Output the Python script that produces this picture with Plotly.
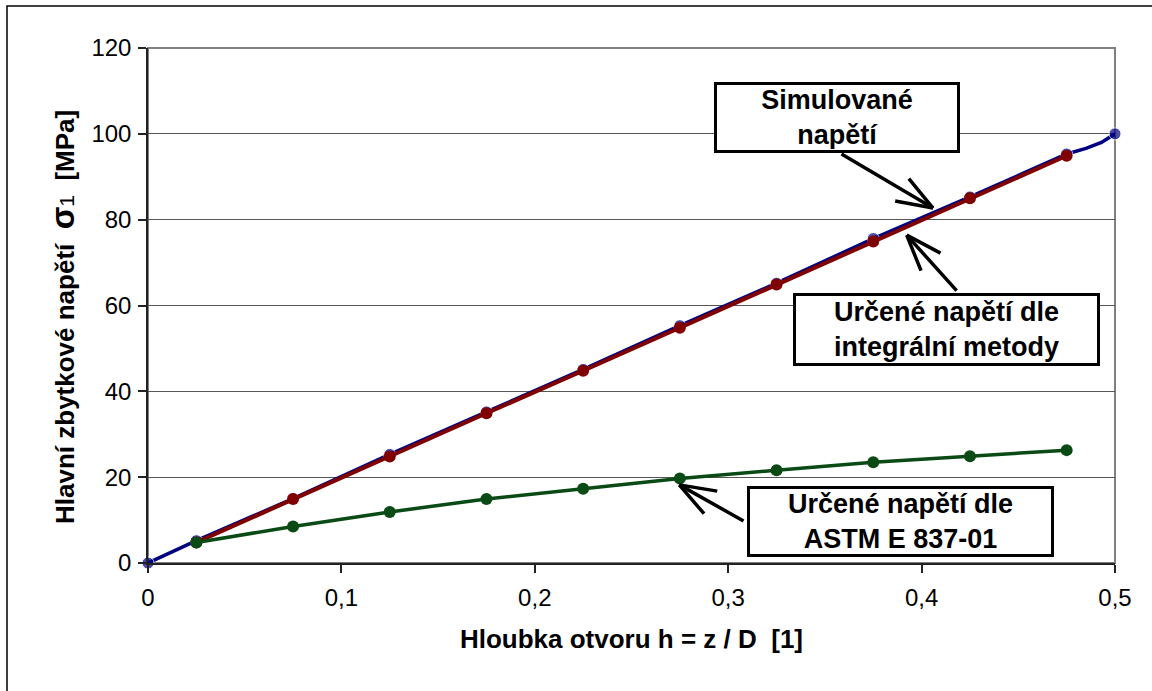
import math
import plotly.graph_objects as go

# ---- data ----
x_sim = [0, 0.025, 0.075, 0.125, 0.175, 0.225, 0.275, 0.325, 0.375, 0.425, 0.475, 0.485, 0.493, 0.5]
sim_stress = [0, 5.2, 15.0, 25.3, 35.2, 45.1, 55.3, 65.2, 75.6, 85.3, 95.3, 96.6, 98.0, 100]
sim_marker = [1, 1, 1, 1, 1, 1, 1, 1, 1, 1, 1, 0, 0, 1]

x_meas = [0.025, 0.075, 0.125, 0.175, 0.225, 0.275, 0.325, 0.375, 0.425, 0.475]
integral_stress = [4.8, 14.9, 24.8, 34.9, 44.8, 54.8, 64.9, 74.9, 85.0, 94.9]
astm_stress = [4.8, 8.5, 11.9, 14.9, 17.3, 19.7, 21.6, 23.5, 24.9, 26.3]

x_ticks = [0, 0.1, 0.2, 0.3, 0.4, 0.5]
x_tick_labels = ["0", "0,1", "0,2", "0,3", "0,4", "0,5"]
y_ticks = [0, 20, 40, 60, 80, 100, 120]

FONT = "Arial, Liberation Sans, sans-serif"
BLUE = "#000080"
RED = "#800000"
GREEN = "#0a4a14"

W, H = 1152, 691
ML, MR, MT, MB = 148, 37, 48, 128
X_RANGE = [0, 0.5]
Y_RANGE = [0, 120]
SX = (W - ML - MR) / (X_RANGE[1] - X_RANGE[0])   # px per x unit
SY = (H - MT - MB) / (Y_RANGE[1] - Y_RANGE[0])   # px per y unit

fig = go.Figure()

fig.add_trace(go.Scatter(
    x=x_sim, y=sim_stress, mode="lines+markers",
    line=dict(color=BLUE, width=3.5),
    marker=dict(color=BLUE, size=[12 * m for m in sim_marker]),
    showlegend=False, cliponaxis=False))

fig.add_trace(go.Scatter(
    x=x_meas, y=integral_stress, mode="lines+markers",
    line=dict(color=RED, width=4),
    marker=dict(color=RED, size=12),
    showlegend=False, cliponaxis=False))

fig.add_trace(go.Scatter(
    x=x_meas, y=astm_stress, mode="lines+markers",
    line=dict(color=GREEN, width=3.5),
    marker=dict(color=GREEN, size=12),
    showlegend=False, cliponaxis=False))

# text boxes
boxes = [
    (0.3563, 103.8, "Simulované<br>napětí", 238, 63),
    (0.4129, 54.4, "Určené napětí dle<br>integrální metody", 299, 65),
    (0.389, 9.62, "Určené napětí dle<br>ASTM E 837-01", 299, 63),
]
for bx, by, txt, w, h in boxes:
    fig.add_annotation(x=bx, y=by, xref="x", yref="y", text="<b>" + txt + "</b>",
                       showarrow=False, width=w, height=h, align="center",
                       bgcolor="white", bordercolor="black", borderwidth=3, borderpad=1,
                       font=dict(family=FONT, size=27, color="black"))

# arrows (tail -> tip), drawn as shaft + two open barbs
arrows = [
    ((0.3578, 95.5), (0.4059, 82.7)),
    ((0.4188, 63.1), (0.3923, 76.4)),
    ((0.3087, 9.6), (0.2747, 18.2)),
]
BARB_LEN = 40
BARB_ANG = math.radians(20)


def seg(x0, y0, x1, y1):
    fig.add_annotation(x=x1, y=y1, ax=x0, ay=y0, xref="x", yref="y", axref="x", ayref="y",
                       text="", showarrow=True, arrowhead=0, arrowwidth=3.5,
                       arrowcolor="black", standoff=0, startstandoff=0)


for (tx, ty), (hx, hy) in arrows:
    seg(tx, ty, hx, hy)
    dx = (tx - hx) * SX
    dy = (ty - hy) * SY
    n = math.hypot(dx, dy)
    ux, uy = dx / n, dy / n
    for s in (1, -1):
        c, si = math.cos(s * BARB_ANG), math.sin(s * BARB_ANG)
        bx = ux * c - uy * si
        by = ux * si + uy * c
        seg(hx + bx * BARB_LEN / SX, hy + by * BARB_LEN / SY, hx, hy)

# y-axis title as rotated annotation
fig.add_annotation(x=(62 - ML) / (W - ML - MR), y=(H - MB - 317) / (H - MT - MB),
                   xref="paper", yref="paper", xanchor="center", yanchor="middle",
                   textangle=-90, showarrow=False,
                   text="<b>Hlavní zbytkové napětí  <span style='font-size:33px'>σ</span></b>"
                        "<span style='font-size:21px'>1</span><b>  [MPa]</b>",
                   font=dict(family=FONT, size=26, color="black"))

# plot-area border (gray top/right) and outer chart border
fig.add_shape(type="rect", xref="paper", yref="paper", x0=0, x1=1, y0=0, y1=1,
              line=dict(color="#808080", width=2), layer="below")
fig.add_shape(type="rect", xref="paper", yref="paper", x0=-0.1458, x1=1.06, y0=-0.28, y1=1.0816,
              line=dict(color="black", width=1.5), layer="below")

fig.update_layout(
    width=W, height=H,
    margin=dict(l=ML, r=MR, t=MT, b=MB),
    paper_bgcolor="white", plot_bgcolor="white",
    font=dict(family=FONT, size=24, color="black"),
    xaxis=dict(range=X_RANGE, tickvals=x_ticks, ticktext=x_tick_labels,
               showgrid=False, zeroline=False,
               showline=True, linecolor="#222222", linewidth=1.5,
               ticks="outside", ticklen=8, tickcolor="#222222", tickwidth=1.5,
               ticklabelstandoff=4,
               tickfont=dict(family=FONT, size=24),
               title=dict(text="<b>Hloubka otvoru h = z / D  [1]</b>",
                          font=dict(family=FONT, size=26), standoff=20)),
    yaxis=dict(range=Y_RANGE, tickvals=y_ticks,
               showgrid=True, gridcolor="#555555", gridwidth=1, zeroline=False,
               showline=True, linecolor="#222222", linewidth=1.5,
               ticks="outside", ticklen=8, tickcolor="#222222", tickwidth=1.5,
               ticklabelstandoff=2,
               tickfont=dict(family=FONT, size=24)),
)

fig.write_html("out.html", config={"displayModeBar": False},
               post_script="document.body.style.margin='0';")
